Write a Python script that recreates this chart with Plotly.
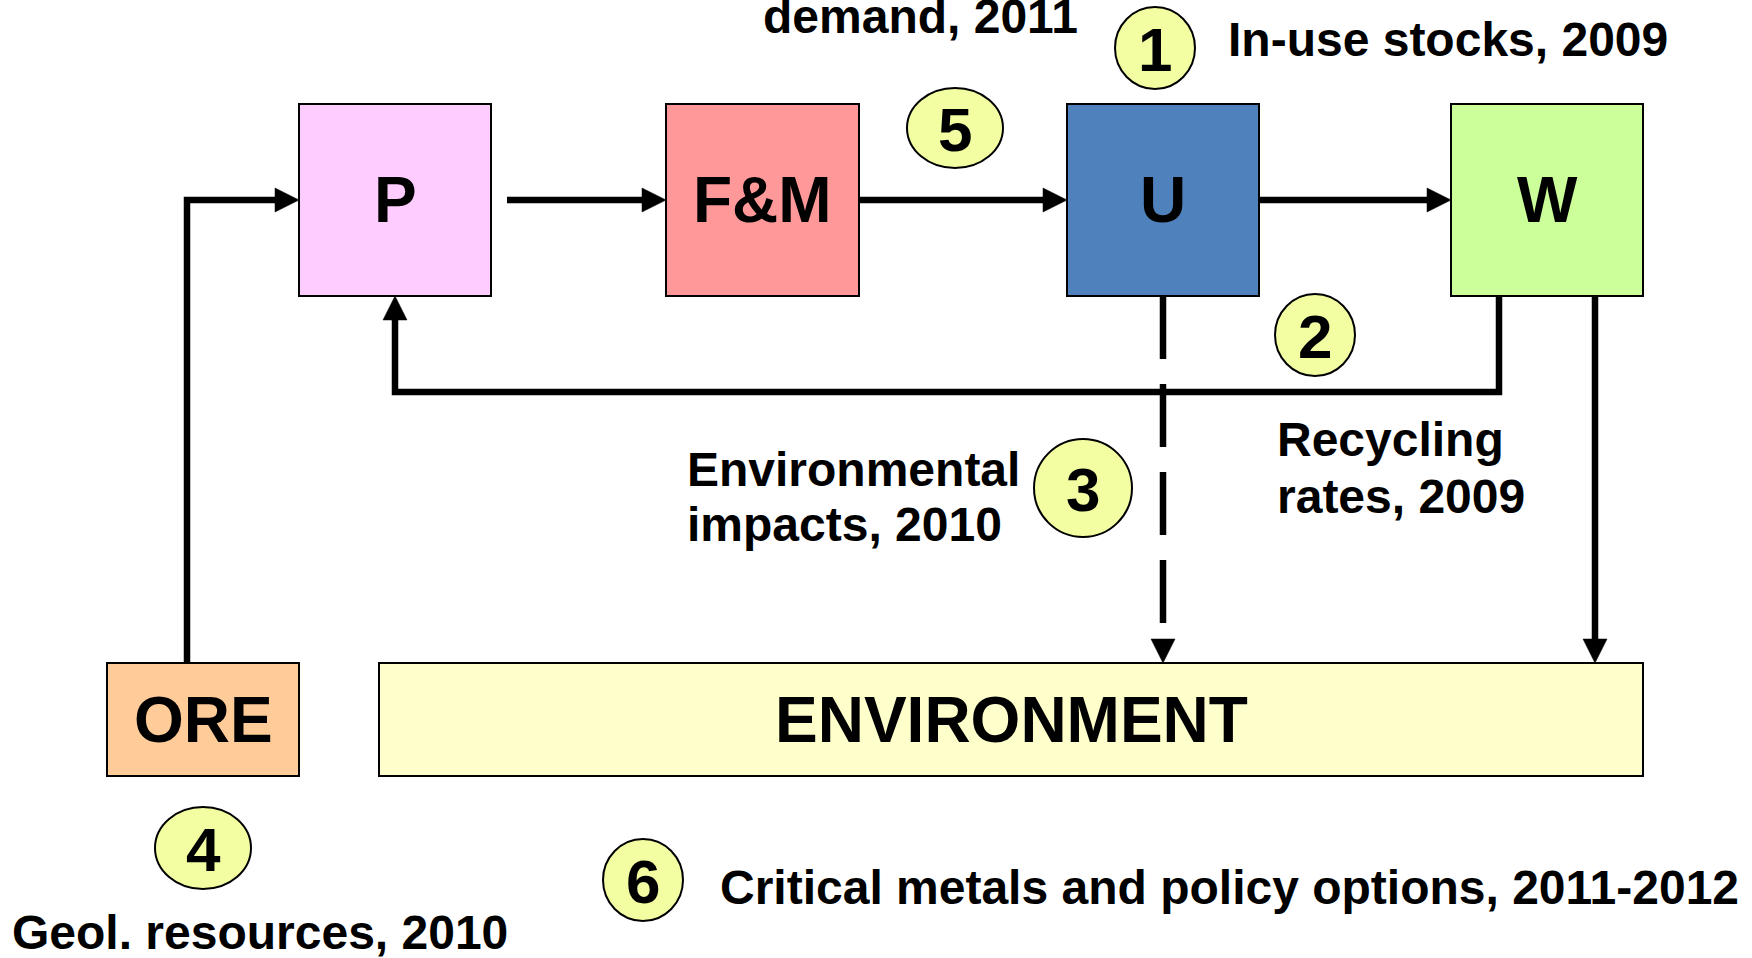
import plotly.graph_objects as go

# ---------------- data ----------------
stage_labels = ["P", "F&M", "U", "W", "ORE", "ENVIRONMENT"]
stage_colors = ["#FFCCFF", "#FF9999", "#4F81BD", "#CCFF99", "#FFCC99", "#FFFFCC"]

study_numbers = ["1", "2", "3", "4", "5", "6"]
study_captions = [
    ["In-use stocks, 2009"],
    ["Recycling", "rates, 2009"],
    ["Environmental", "impacts, 2010"],
    ["Geol. resources, 2010"],
    ["demand, 2011"],
    ["Critical metals and policy options, 2011-2012"],
]

flow_from = ["P", "F&M", "U", "ORE", "W", "U", "W"]
flow_to = ["F&M", "U", "W", "P", "P", "ENVIRONMENT", "ENVIRONMENT"]
flow_style = ["solid", "solid", "solid", "solid", "solid", "dash", "solid"]

# ---------------- layout geometry (pixels) ----------------
W, H = 1752, 958
box_geom = {
    "P": (299, 104, 491, 296),
    "F&M": (666, 104, 859, 296),
    "U": (1067, 104, 1259, 296),
    "W": (1451, 104, 1643, 296),
    "ORE": (107, 663, 299, 776),
    "ENVIRONMENT": (379, 663, 1643, 776),
}
row_y = 200
flow_routes = [
    lambda: [(box_geom["P"][2] + 16, row_y), (box_geom["F&M"][0], row_y)],
    lambda: [(box_geom["F&M"][2], row_y), (box_geom["U"][0], row_y)],
    lambda: [(box_geom["U"][2], row_y), (box_geom["W"][0], row_y)],
    lambda: [(187, box_geom["ORE"][1]), (187, row_y), (box_geom["P"][0], row_y)],
    lambda: [(1499, box_geom["W"][3]), (1499, 392), (395, 392), (395, box_geom["P"][3])],
    lambda: [(1163, box_geom["U"][3]), (1163, box_geom["ENVIRONMENT"][1])],
    lambda: [(1595, box_geom["W"][3]), (1595, box_geom["ENVIRONMENT"][1])],
]
# circle (cx, cy, rx, ry) and caption (left x, baselines)
circle_geom = [
    (1155, 48, 40, 41),
    (1315, 335, 40, 41),
    (1083, 488, 49, 49),
    (203, 848, 48, 41),
    (955, 128, 48, 40),
    (643, 880, 40, 41),
]
caption_geom = [
    (1226, [56]),
    (1275, [456, 513]),
    (685, [486, 541]),
    (10, [949]),
    (761, [33]),
    (718, [904]),
]

FONT = "Liberation Sans, Arial, sans-serif"
LW = 6.5
AH_LEN, AH_HALF = 24, 12
CAP_SIZE = 48
BOX_SIZE = 64
NUM_SIZE = 62

fig = go.Figure()
shapes = []
annotations = []

# flows
for src, dst, style, route in zip(flow_from, flow_to, flow_style, flow_routes):
    pts = route()
    (xa, ya), (xb, yb) = pts[-2], pts[-1]
    dx, dy = xb - xa, yb - ya
    L = (dx * dx + dy * dy) ** 0.5
    ux, uy = dx / L, dy / L
    bx, by = xb - ux * AH_LEN, yb - uy * AH_LEN
    line_pts = pts[:-1] + [(bx, by)]
    path = "M " + " L ".join(f"{x},{y}" for x, y in line_pts)
    shapes.append(dict(type="path", path=path, xref="x", yref="y",
                       line=dict(color="black", width=LW,
                                 dash="63px,25px" if style == "dash" else "solid"),
                       layer="above"))
    px, py = -uy, ux
    tri = (f"M {xb},{yb} L {bx + px * AH_HALF},{by + py * AH_HALF} "
           f"L {bx - px * AH_HALF},{by - py * AH_HALF} Z")
    shapes.append(dict(type="path", path=tri, xref="x", yref="y",
                       fillcolor="black", line=dict(color="black", width=0.5),
                       layer="above"))

# boxes
for lab, col in zip(stage_labels, stage_colors):
    x0, y0, x1, y1 = box_geom[lab]
    shapes.append(dict(type="rect", x0=x0, y0=y0, x1=x1, y1=y1, xref="x", yref="y",
                       fillcolor=col, line=dict(color="black", width=2), layer="above"))
    annotations.append(dict(x=(x0 + x1) / 2, y=(y0 + y1) / 2, xref="x", yref="y",
                            text=f"<b>{lab}</b>", showarrow=False,
                            xanchor="center", yanchor="middle",
                            font=dict(family=FONT, size=BOX_SIZE, color="black")))

# numbered circles + captions
for num, caps, (cx, cy, rx, ry), (tx, bases) in zip(study_numbers, study_captions,
                                                     circle_geom, caption_geom):
    shapes.append(dict(type="circle", x0=cx - rx, x1=cx + rx, y0=cy - ry, y1=cy + ry,
                       xref="x", yref="y", fillcolor="#F3FDA1",
                       line=dict(color="black", width=2), layer="above"))
    annotations.append(dict(x=cx, y=cy + 1, xref="x", yref="y", text=f"<b>{num}</b>",
                            showarrow=False, xanchor="center", yanchor="middle",
                            font=dict(family=FONT, size=NUM_SIZE, color="black")))
    for line, base in zip(caps, bases):
        annotations.append(dict(x=tx, y=base - 0.3465 * CAP_SIZE, xref="x", yref="y",
                                text=f"<b>{line}</b>", showarrow=False,
                                xanchor="left", yanchor="middle",
                                font=dict(family=FONT, size=CAP_SIZE, color="black")))

fig.update_layout(
    width=W, height=H, margin=dict(l=0, r=0, t=0, b=0),
    paper_bgcolor="white", plot_bgcolor="white",
    xaxis=dict(range=[0, W], visible=False, fixedrange=True),
    yaxis=dict(range=[H, 0], visible=False, fixedrange=True),
    shapes=shapes, annotations=annotations, showlegend=False,
)

fig.write_html("out.html", config={"displayModeBar": False},
               post_script="document.body.style.margin='0';document.body.style.overflow='hidden';")
